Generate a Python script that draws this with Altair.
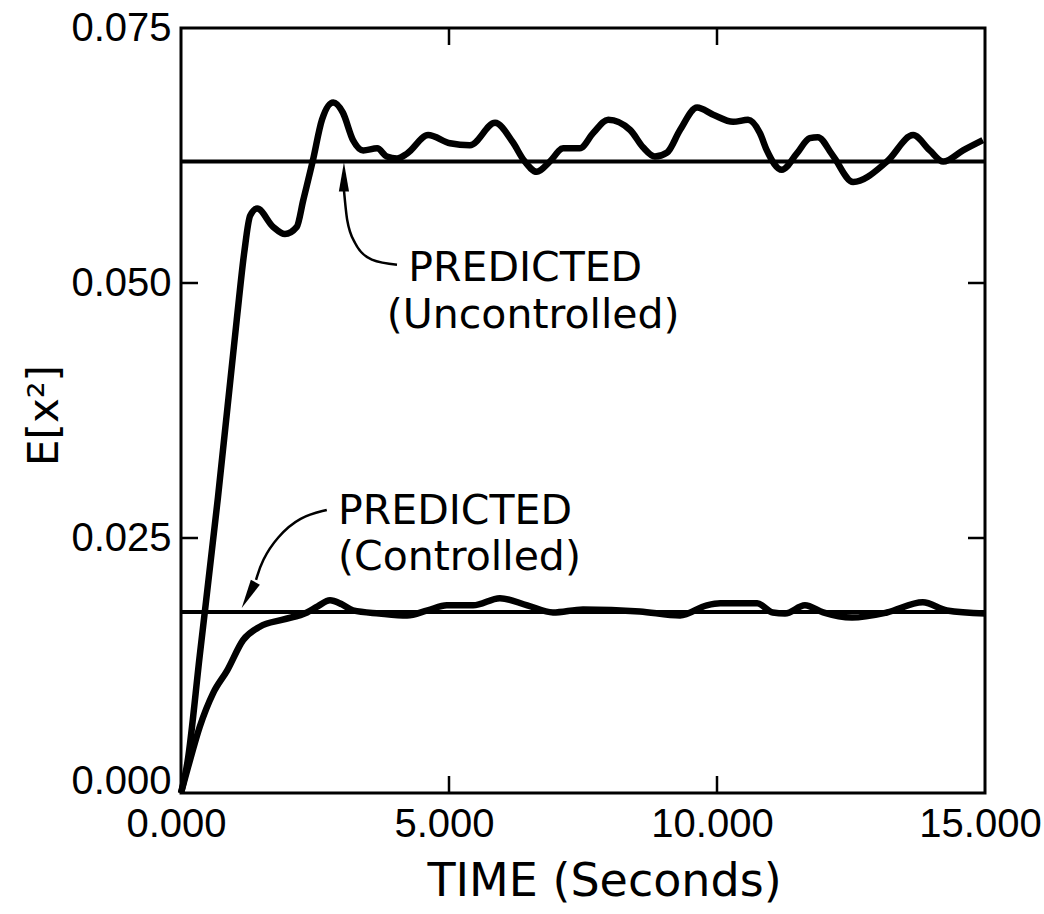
import altair as alt
import pandas as pd

# ---- data ----
unc_t = [0, 0.12, 0.35, 0.69, 1.04, 1.18, 1.29, 1.42, 1.72, 1.94, 2.16, 2.28, 2.46, 2.63, 2.84,
         3.02, 3.21, 3.40, 3.66, 3.84, 4.03, 4.22, 4.61, 5.02, 5.39, 5.86, 6.19, 6.40, 6.64,
         6.88, 7.13, 7.44, 7.69, 7.97, 8.38, 8.62, 8.84, 9.07, 9.31, 9.63, 9.93, 10.30, 10.58,
         10.80, 10.93, 11.21, 11.49, 11.73, 11.88, 12.16, 12.54, 13.17, 13.66, 13.97, 14.22,
         14.59, 14.96]
unc_v = [0, 0.0030, 0.0135, 0.0290, 0.0464, 0.0530, 0.0566, 0.0573, 0.0555, 0.0548, 0.0555,
         0.0581, 0.0620, 0.0660, 0.0677, 0.0667, 0.0640, 0.0630, 0.0632, 0.0624, 0.0622, 0.0627,
         0.0645, 0.0637, 0.0635, 0.0657, 0.0638, 0.0620, 0.0609, 0.0619, 0.0632, 0.0632, 0.0647,
         0.0660, 0.0650, 0.0633, 0.0624, 0.0628, 0.0650, 0.0672, 0.0665, 0.0658, 0.0660, 0.0647,
         0.0630, 0.0611, 0.0627, 0.0642, 0.0643, 0.0625, 0.0599, 0.0619, 0.0645, 0.0630, 0.0619,
         0.0630, 0.0640]

con_t = [0, 0.13, 0.35, 0.60, 0.86, 1.16, 1.47, 1.90, 2.35, 2.55, 2.78, 3.00, 3.21, 3.70, 4.22,
         4.60, 4.96, 5.45, 5.95, 6.46, 6.94, 7.50, 8.56, 9.31, 9.81, 10.06, 10.75, 11.04, 11.27,
         11.64, 11.98, 12.52, 13.17, 13.84, 14.29, 15.0]
con_v = [0, 0.0025, 0.0065, 0.0098, 0.0120, 0.0150, 0.0163, 0.0170, 0.0177, 0.0183, 0.0189,
         0.0185, 0.0179, 0.0176, 0.0174, 0.0179, 0.0184, 0.0184, 0.0191, 0.0184, 0.0177, 0.0180,
         0.0178, 0.0174, 0.0184, 0.0186, 0.0186, 0.0177, 0.0176, 0.0184, 0.0177, 0.0172, 0.0177,
         0.0187, 0.0179, 0.0176]

pred_levels = [0.0619, 0.01775]

x_ticks = [0, 5, 10, 15]
y_ticks = [0, 0.025, 0.05, 0.075]
inner_x_ticks = [5, 10]
inner_y_ticks = [0.025, 0.05]

# annotations (data units)
label_t = [4.24, 3.84, 2.93, 2.93]
label_v = [0.0502, 0.0456, 0.0264, 0.0219]
label_text = ["PREDICTED", "(Uncontrolled)", "PREDICTED", "(Controlled)"]

arrow_u_t = [4.03, 3.56, 3.25, 3.10, 3.04]
arrow_u_v = [0.0518, 0.0523, 0.0539, 0.0562, 0.0591]
arrow_c_t = [2.72, 2.22, 1.79, 1.51, 1.40]
arrow_c_v = [0.02775, 0.0271, 0.0251, 0.0228, 0.0209]
head_t = [3.04, 1.26]
head_v = [0.0604, 0.0194]
head_angle = [0, 208]

W, H = 804, 765
FONT = "Liberation Sans"
FONT2 = "DejaVu Sans"

xs = alt.Scale(domain=[0, 15], nice=False, zero=False)
ys = alt.Scale(domain=[0, 0.075], nice=False, zero=False)

unc = pd.DataFrame({"t": unc_t, "v": unc_v})
con = pd.DataFrame({"t": con_t, "v": con_v})

xaxis = alt.Axis(values=x_ticks, format=".3f", title="TIME (Seconds)", domain=False, ticks=False,
                 grid=False, labelFontSize=40, labelPadding=11, labelOffset=-5, labelFlush=False,
                 titleFont=FONT2, titleFontSize=46, titleX=423, titleY=102,
                 titleBaseline="alphabetic")
yaxis = alt.Axis(values=y_ticks, format=".3f", title="E[x²]", domain=False, ticks=False,
                 grid=False, labelFontSize=40, labelPadding=10, labelFlush=False,
                 labelBaseline={"condition": {"test": "datum.value === 0", "value": "alphabetic"},
                                "value": "middle"},
                 titleFont=FONT2, titleFontSize=42, titleX=-124, titleY=387, titleAngle=270,
                 titleBaseline="alphabetic", titleAlign="center")

base_unc = alt.Chart(unc).mark_line(color="black", strokeWidth=6.5, interpolate="monotone").encode(
    x=alt.X("t:Q", scale=xs, axis=xaxis),
    y=alt.Y("v:Q", scale=ys, axis=yaxis),
)
base_con = alt.Chart(con).mark_line(color="black", strokeWidth=6.5, interpolate="monotone").encode(
    x=alt.X("t:Q", scale=xs), y=alt.Y("v:Q", scale=ys)
)

pred = alt.Chart(pd.DataFrame({"v": pred_levels, "t0": [0, 0], "t1": [15, 15]})).mark_rule(
    color="black", strokeWidth=4
).encode(x=alt.X("t0:Q", scale=xs), x2="t1:Q", y=alt.Y("v:Q", scale=ys))

tick_len = 17
xt = pd.DataFrame({"t": inner_x_ticks})
yt = pd.DataFrame({"v": inner_y_ticks})
ticks_bottom = alt.Chart(xt).mark_rule(color="black", strokeWidth=2.5).encode(
    x=alt.X("t:Q", scale=xs), y=alt.value(H), y2=alt.value(H - tick_len))
ticks_top = alt.Chart(xt).mark_rule(color="black", strokeWidth=2.5).encode(
    x=alt.X("t:Q", scale=xs), y=alt.value(0), y2=alt.value(tick_len))
ticks_left = alt.Chart(yt).mark_rule(color="black", strokeWidth=2.5).encode(
    y=alt.Y("v:Q", scale=ys), x=alt.value(0), x2=alt.value(tick_len))
ticks_right = alt.Chart(yt).mark_rule(color="black", strokeWidth=2.5).encode(
    y=alt.Y("v:Q", scale=ys), x=alt.value(W), x2=alt.value(W - tick_len))

labels = alt.Chart(pd.DataFrame({"t": label_t, "v": label_v, "txt": label_text})).mark_text(
    font=FONT2, fontSize=41, align="left", baseline="alphabetic", color="black"
).encode(x=alt.X("t:Q", scale=xs), y=alt.Y("v:Q", scale=ys), text="txt:N")

arrow_u = alt.Chart(pd.DataFrame({"t": arrow_u_t, "v": arrow_u_v, "o": range(len(arrow_u_t))})).mark_line(
    color="black", strokeWidth=2.5, interpolate="monotone"
).encode(x=alt.X("t:Q", scale=xs), y=alt.Y("v:Q", scale=ys), order="o:Q")
arrow_c = alt.Chart(pd.DataFrame({"t": arrow_c_t, "v": arrow_c_v, "o": range(len(arrow_c_t))})).mark_line(
    color="black", strokeWidth=2.5, interpolate="basis"
).encode(x=alt.X("t:Q", scale=xs), y=alt.Y("v:Q", scale=ys), order="o:Q")

heads = alt.Chart(pd.DataFrame({"t": head_t, "v": head_v, "a": head_angle})).mark_point(
    shape="M0,-1L0.35,1L-0.35,1Z", filled=True, color="black", opacity=1, size=850
).encode(x=alt.X("t:Q", scale=xs), y=alt.Y("v:Q", scale=ys),
         angle=alt.Angle("a:Q", scale=None))

chart = alt.layer(
    pred, base_con, base_unc, ticks_bottom, ticks_top, ticks_left, ticks_right,
    arrow_u, arrow_c, heads, labels
).properties(
    width=W, height=H,
    autosize=alt.AutoSizeParams(type="none"),
    padding={"left": 181, "top": 28, "right": 59, "bottom": 121},
    background="white",
).configure_view(
    stroke="black", strokeWidth=3
).configure_axis(
    labelFont=FONT, titleFont=FONT2, labelColor="black", titleColor="black",
    titleFontWeight="normal"
)

chart.save("out.html", embed_options={"renderer": "svg", "actions": False})
